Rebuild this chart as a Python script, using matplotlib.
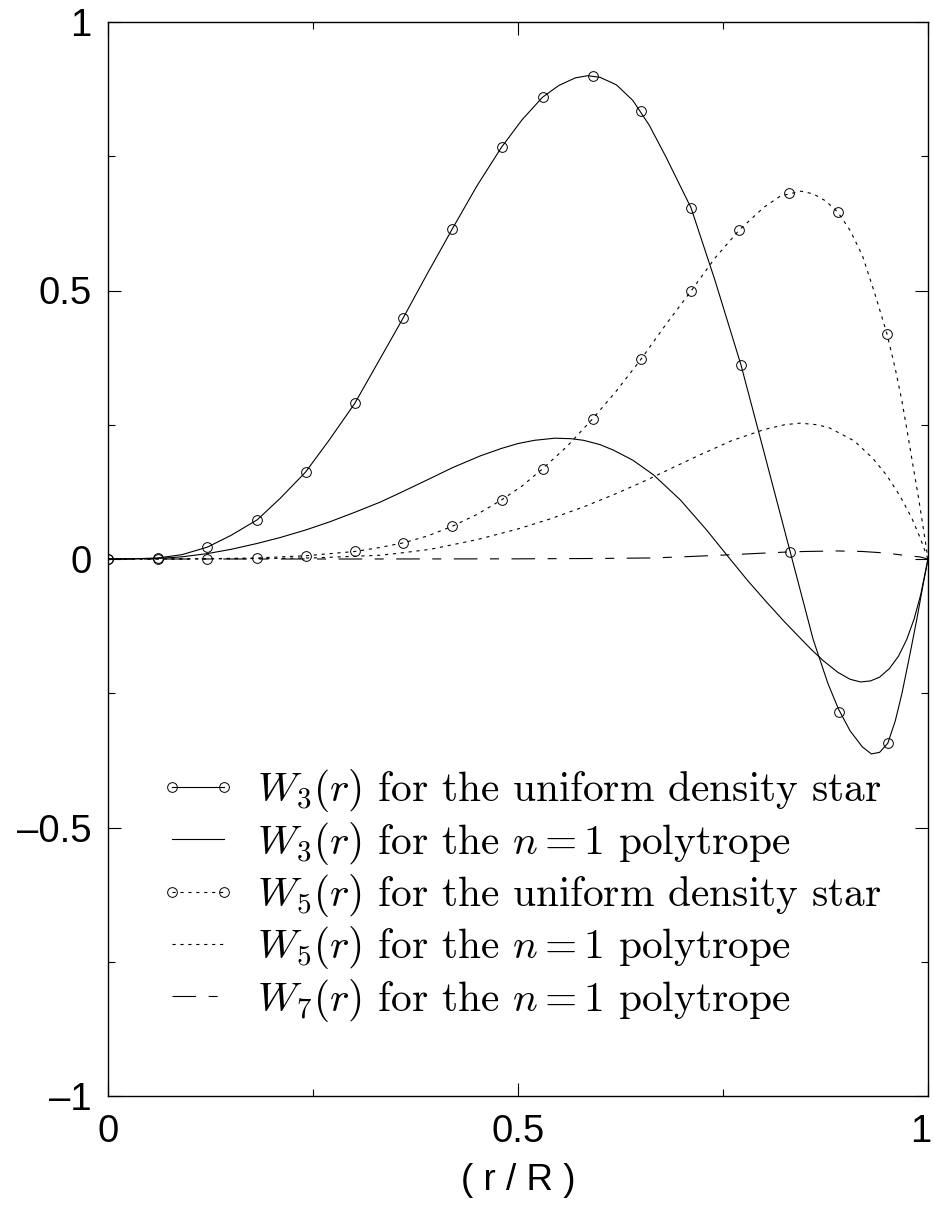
import matplotlib
matplotlib.use("Agg")
import matplotlib.pyplot as plt
from matplotlib.lines import Line2D
from matplotlib.ticker import FixedLocator, FixedFormatter, MultipleLocator
from matplotlib.transforms import ScaledTranslation

# ---------------- data ----------------
# W3(r), uniform density star: curve samples
w3u_x = [0.0, 0.03, 0.061, 0.09, 0.121, 0.15, 0.182, 0.21, 0.241, 0.27, 0.301, 0.33,
         0.360, 0.39, 0.420, 0.45, 0.480, 0.505, 0.530, 0.55, 0.57, 0.585, 0.60, 0.62,
         0.64, 0.66, 0.68, 0.711, 0.74, 0.772, 0.80, 0.832, 0.86, 0.878, 0.891, 0.905,
         0.92, 0.931, 0.941, 0.951, 0.96, 0.968, 0.977, 0.986, 0.994, 1.0]
w3u_y = [0.0, 0.0003, 0.002, 0.008, 0.022, 0.044, 0.073, 0.113, 0.162, 0.222, 0.290, 0.368,
         0.449, 0.533, 0.615, 0.695, 0.767, 0.818, 0.860, 0.882, 0.896, 0.900, 0.897, 0.883,
         0.854, 0.808, 0.750, 0.654, 0.520, 0.361, 0.199, 0.013, -0.150, -0.232, -0.280, -0.320,
         -0.350, -0.363, -0.360, -0.343, -0.302, -0.252, -0.185, -0.115, -0.048, 0.0]
# W3(r), uniform density star: marked points
w3u_mx = [0.0, 0.061, 0.121, 0.182, 0.241, 0.301, 0.360, 0.420, 0.480, 0.530, 0.591,
          0.650, 0.711, 0.772, 0.832, 0.891, 0.951]
w3u_my = [0.0, 0.002, 0.022, 0.073, 0.162, 0.290, 0.449, 0.615, 0.767, 0.860, 0.899,
          0.834, 0.654, 0.361, 0.013, -0.285, -0.343]

# W3(r), n = 1 polytrope
w3p_x = [0.0, 0.03, 0.061, 0.09, 0.121, 0.15, 0.182, 0.21, 0.241, 0.27, 0.301, 0.332, 0.356,
         0.393, 0.42, 0.454, 0.48, 0.50, 0.52, 0.545, 0.565, 0.58, 0.60, 0.616, 0.64, 0.665,
         0.698, 0.73, 0.757, 0.78, 0.803, 0.825, 0.844, 0.858, 0.872, 0.89, 0.905, 0.918,
         0.93, 0.941, 0.953, 0.964, 0.974, 0.983, 0.991, 1.0]
w3p_y = [0.0, 0.0002, 0.001, 0.004, 0.010, 0.018, 0.029, 0.040, 0.054, 0.069, 0.087, 0.106, 0.123,
         0.150, 0.170, 0.192, 0.206, 0.215, 0.221, 0.225, 0.224, 0.221, 0.213, 0.203, 0.184, 0.157,
         0.110, 0.054, 0.003, -0.040, -0.080, -0.117, -0.147, -0.169, -0.189, -0.211, -0.224, -0.229,
         -0.227, -0.220, -0.204, -0.181, -0.150, -0.112, -0.067, 0.0]

# W5(r), uniform density star: curve samples
w5u_x = [0.0, 0.061, 0.121, 0.182, 0.241, 0.301, 0.33, 0.360, 0.39, 0.420, 0.45, 0.480,
         0.505, 0.530, 0.56, 0.591, 0.62, 0.650, 0.68, 0.711, 0.74, 0.770, 0.80, 0.82, 0.845,
         0.86, 0.875, 0.890, 0.905, 0.92, 0.935, 0.950, 0.96, 0.968, 0.975, 0.982, 0.988,
         0.994, 1.0]
w5u_y = [0.0, 0.0, 0.0005, 0.002, 0.006, 0.014, 0.021, 0.030, 0.043, 0.061, 0.083, 0.110,
         0.136, 0.168, 0.210, 0.261, 0.313, 0.372, 0.436, 0.499, 0.560, 0.613, 0.655, 0.676,
         0.685, 0.680, 0.667, 0.646, 0.612, 0.565, 0.495, 0.419, 0.355, 0.296, 0.235, 0.171,
         0.118, 0.060, 0.0]
# W5(r), uniform density star: marked points
w5u_mx = [0.0, 0.061, 0.121, 0.182, 0.241, 0.301, 0.360, 0.420, 0.480, 0.530, 0.591,
          0.650, 0.711, 0.770, 0.831, 0.890, 0.950]
w5u_my = [0.0, 0.0, 0.0005, 0.002, 0.006, 0.014, 0.030, 0.061, 0.110, 0.168, 0.261,
          0.372, 0.499, 0.613, 0.682, 0.646, 0.419]

# W5(r), n = 1 polytrope
w5p_x = [0.0, 0.1, 0.2, 0.25, 0.3, 0.332, 0.356, 0.393, 0.45, 0.5, 0.54, 0.58, 0.62,
         0.657, 0.69, 0.722, 0.76, 0.8, 0.825, 0.844, 0.865, 0.88, 0.91, 0.933, 0.95, 0.966,
         0.98, 0.99, 1.0]
w5p_y = [0.0, 0.0, 0.001, 0.002, 0.005, 0.007, 0.011, 0.018, 0.036, 0.056, 0.075, 0.097, 0.122,
         0.147, 0.171, 0.194, 0.220, 0.241, 0.250, 0.253, 0.250, 0.244, 0.220, 0.187, 0.155, 0.117,
         0.077, 0.041, 0.0]

# W7(r), n = 1 polytrope
w7p_x = [0.0, 0.3, 0.5, 0.6, 0.665, 0.7, 0.746, 0.8, 0.828, 0.85, 0.889, 0.92, 0.95, 0.975, 0.99, 1.0]
w7p_y = [0.0, 0.0, 0.0003, 0.001, 0.002, 0.004, 0.007, 0.011, 0.013, 0.014, 0.015, 0.014, 0.011, 0.006, 0.004, 0.0]

labels = [r"$W_3(r)$ for the uniform density star",
          r"$W_3(r)$ for the $n=1$ polytrope",
          r"$W_5(r)$ for the uniform density star",
          r"$W_5(r)$ for the $n=1$ polytrope",
          r"$W_7(r)$ for the $n=1$ polytrope"]

xticks = [0, 0.5, 1]
xticklabels = ["0", "0.5", "1"]
yticks = [-1, -0.5, 0, 0.5, 1]
yticklabels = ["\u20131", "\u20130.5", "0", "0.5", "1"]
xlabel = "( r / R )"

# ---------------- styling ----------------
plt.rcParams['mathtext.fontset'] = 'cm'
plt.rcParams['lines.scale_dashes'] = False
plt.rcParams['font.family'] = ['Liberation Sans', 'DejaVu Sans']

LW = 0.8
DOT = (0, (2.3, 3.4))
DASHDOT = (0, (17.0, 9.0, 6.5, 9.0))
MS = 7.0
MEW = 0.7

fig = plt.figure(figsize=(9.34, 12.07), dpi=100)
ax = fig.add_axes([108/934, 1 - 1096/1207, 820/934, 1074/1207])

ax.plot(w3u_x, w3u_y, color='black', lw=LW, ls='-')
ax.plot(w3u_mx, w3u_my, ls='none', marker='o', ms=MS, mfc='none', mec='black', mew=MEW)
ax.plot(w3p_x, w3p_y, color='black', lw=LW, ls='-')
ax.plot(w5u_x, w5u_y, color='black', lw=LW, ls=DOT)
ax.plot(w5u_mx, w5u_my, ls='none', marker='o', ms=MS, mfc='none', mec='black', mew=MEW)
ax.plot(w5p_x, w5p_y, color='black', lw=LW, ls=DOT)
ax.plot(w7p_x, w7p_y, color='black', lw=LW, ls=DASHDOT)

ax.set_xlim(0, 1)
ax.set_ylim(-1, 1)
ax.xaxis.set_major_locator(FixedLocator(xticks))
ax.xaxis.set_major_formatter(FixedFormatter(xticklabels))
ax.yaxis.set_major_locator(FixedLocator(yticks))
ax.yaxis.set_major_formatter(FixedFormatter(yticklabels))
ax.xaxis.set_minor_locator(MultipleLocator(0.25))
ax.yaxis.set_minor_locator(MultipleLocator(0.25))
ax.tick_params(which='both', direction='in', top=True, right=True, width=0.8, color='black')
ax.tick_params(which='major', length=9.5, labelsize=27.5, pad=12)
ax.tick_params(axis='x', which='major', pad=13)
ax.tick_params(which='minor', length=5)
for s in ax.spines.values():
    s.set_linewidth(1.0)
ax.set_xlabel(xlabel, fontsize=26.5, labelpad=9)

handles = [
    Line2D([], [], color='black', lw=LW, ls='-', marker='o', ms=MS, mfc='none', mec='black', mew=MEW),
    Line2D([], [], color='black', lw=LW, ls='-'),
    Line2D([], [], color='black', lw=LW, ls=DOT, marker='o', ms=MS, mfc='none', mec='black', mew=MEW),
    Line2D([], [], color='black', lw=LW, ls=DOT),
    Line2D([], [], color='black', lw=LW, ls=DASHDOT),
]
leg = ax.legend(handles, labels, loc='upper left', bbox_to_anchor=(0.063, 0.306),
                frameon=False, numpoints=2, handlelength=1.85, handletextpad=0.5,
                labelspacing=0.13, borderpad=0, borderaxespad=0,
                prop={'family': 'cmr10', 'size': 29.8})

# keep the right-most x tick label inside the figure
fig.canvas.draw()
last_tick = ax.xaxis.get_major_ticks()[-1]
last_tick.label1.set_transform(last_tick.label1.get_transform()
                               + ScaledTranslation(-7/100, 0, fig.dpi_scale_trans))

fig.savefig("out.png", dpi=100)
